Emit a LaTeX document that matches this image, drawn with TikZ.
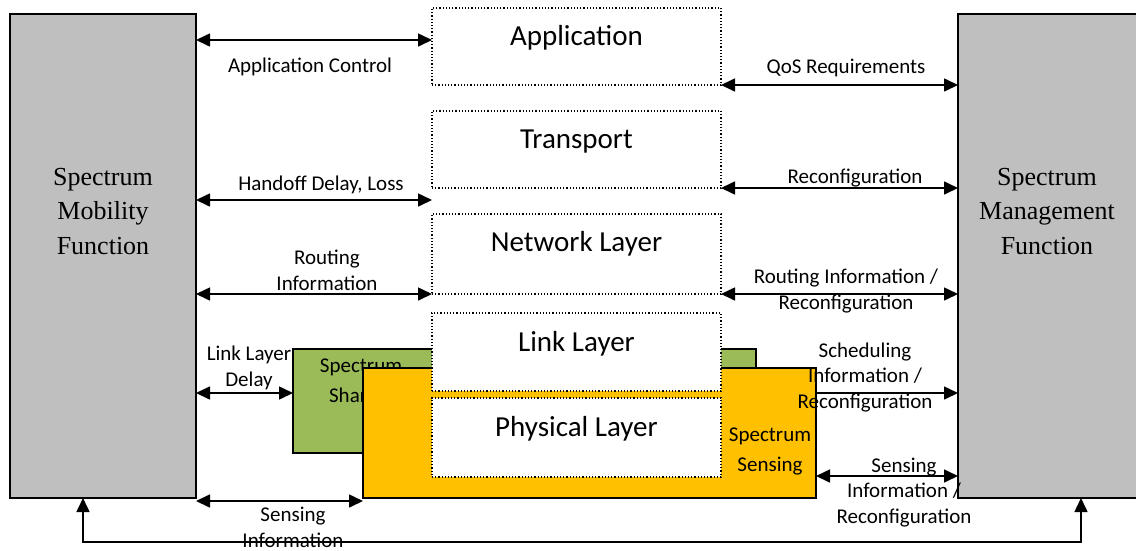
\documentclass[tikz,border=0pt]{standalone}
\usepackage{fontspec}
\setmainfont{Carlito}
\newfontfamily\serifface{Liberation Serif}
\usetikzlibrary{arrows.meta}

\definecolor{fnGrey}{HTML}{BFBFBF}
\definecolor{shareGreen}{HTML}{9BBB59}
\definecolor{senseGold}{HTML}{FFC000}

% multi-line labels are placed by the baseline of their last line
\tikzset{
  fnbox/.style={draw=black, fill=fnGrey, line width=1.5pt, inner sep=0pt, outer sep=0pt, anchor=north west},
  layerbox/.style={draw=black, dotted, fill=white, line width=1.2pt, inner sep=0pt, outer sep=0pt,
                   anchor=north west, minimum width=289pt},
  blockbox/.style={draw=black, line width=1.5pt, inner sep=0pt, outer sep=0pt, anchor=north west},
  lbl/.style={font=\fontsize{21}{25.5}\selectfont, align=center, inner sep=0pt, anchor=base},
  blocklbl/.style={font=\fontsize{21}{30}\selectfont, align=center, inner sep=0pt, anchor=base},
  layertitle/.style={font=\fontsize{29}{34}\selectfont, inner sep=0pt, anchor=base},
  fnlbl/.style={font=\serifface\fontsize{26}{34.5}\selectfont, align=center, inner sep=0pt, anchor=base},
  conn/.style={line width=1.6pt},
  >={Triangle[length=14pt,width=13pt]},
}

\begin{document}
\begin{tikzpicture}[x=1pt, y=-1pt]
\useasboundingbox (0,0) rectangle (1136,550);
\clip (0,0) rectangle (1136,550);

% side function blocks
\node[fnbox, minimum width=186pt, minimum height=484pt] (mob) at (10,14) {};
\node[fnbox, minimum width=200pt, minimum height=484pt] (mgmt) at (958,14) {};
\node[fnlbl] (mobtxt) at (103,254) {Spectrum\\Mobility\\Function};
\node[fnlbl] (mgmttxt) at (1047,254) {Spectrum\\Management\\Function};

% spectrum sharing and sensing blocks behind the lower layers
\node[blockbox, fill=shareGreen, minimum width=463pt, minimum height=104pt] (share) at (293,349) {};
\node[blocklbl] (sharetxt) at (361,402) {Spectrum\\Sharing};
\node[blockbox, fill=senseGold, minimum width=453pt, minimum height=130pt] (sense) at (363,368) {};
\node[blocklbl] (sensetxt) at (770,471) {Spectrum\\Sensing};

% protocol stack
\node[layerbox, minimum height=77pt] (app)   at (432,8)   {};
\node[layerbox, minimum height=77pt] (trans) at (432,111) {};
\node[layerbox, minimum height=80pt] (net)   at (432,214) {};
\node[layerbox, minimum height=78pt] (linkl) at (432,313) {};
\node[layerbox, minimum height=79pt] (phy)   at (432,398) {};
\node[layertitle] (apptxt)   at (576.5,45)  {Application};
\node[layertitle] (transtxt) at (576.5,148) {Transport};
\node[layertitle] (nettxt)   at (576.5,251) {Network Layer};
\node[layertitle] (linktxt)  at (576.5,351) {Link Layer};
\node[layertitle] (phytxt)   at (576.5,436) {Physical Layer};

% heights of the horizontal connectors
\coordinate (yA) at (0,40);
\coordinate (yQ) at (0,85);
\coordinate (yR) at (0,188);
\coordinate (yH) at (0,200);
\coordinate (yN) at (0,294);
\coordinate (yL) at (0,393);
\coordinate (yS) at (0,476);
\coordinate (yB) at (0,501);
\coordinate (fbL) at (83,542);
\coordinate (fbR) at (1081,542);

% connectors on the mobility side
\draw[conn,<->] (mob.east |- yA) -- (app.west |- yA);
\draw[conn,<->] (mob.east |- yH) -- (trans.west |- yH);
\draw[conn,<->] (mob.east |- yN) -- (net.west |- yN);
\draw[conn,<->] (mob.east |- yL) -- (share.west |- yL);
\draw[conn,<->] (mob.east |- yB) -- (sense.west |- yB);

% connectors on the management side
\draw[conn,<->] (app.east |- yQ) -- (mgmt.west |- yQ);
\draw[conn,<->] (trans.east |- yR) -- (mgmt.west |- yR);
\draw[conn,<->] (net.east |- yN) -- (mgmt.west |- yN);
\draw[conn,->]  (sense.east |- yL) -- (mgmt.west |- yL);
\draw[conn,<->] (sense.east |- yS) -- (mgmt.west |- yS);

% feedback loop between the two functions
\draw[conn,<->] (mob.south -| fbL) -- (fbL) -- (fbR) -- (mgmt.south -| fbR);

% connector labels
\node[lbl] (lA) at (310,72)  {Application Control};
\node[lbl] (lH) at (321,190) {Handoff Delay, Loss};
\node[lbl] (lN) at (327,290) {Routing\\Information};
\node[lbl] (lL) at (249,386) {Link Layer\\Delay};
\node[lbl] (lB) at (293,547) {Sensing\\Information};
\node[lbl] (lQ) at (846,73)  {QoS Requirements};
\node[lbl] (lR) at (855,183) {Reconfiguration};
\node[lbl] (lM) at (846,309) {Routing Information /\\Reconfiguration};
\node[lbl] (lC) at (865,408) {Scheduling\\Information /\\Reconfiguration};
\node[lbl] (lS) at (904,523) {Sensing\\Information /\\Reconfiguration};
\end{tikzpicture}
\end{document}
